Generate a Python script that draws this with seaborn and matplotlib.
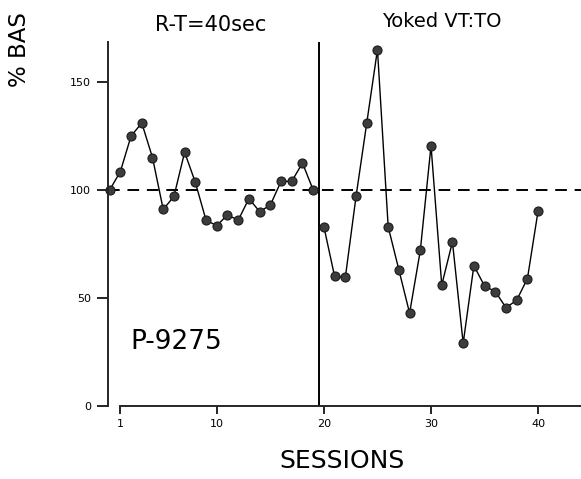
import matplotlib
matplotlib.use("Agg")
import matplotlib.pyplot as plt
import seaborn as sns
import pandas as pd

# --- data ---
sessions_rt = list(range(0, 20))
values_rt = [100, 108.5, 125, 131, 115, 91, 97, 117.5, 103.5, 86,
             83.5, 88.5, 86, 96, 90, 93, 104, 104, 112.5, 100]
sessions_vt = list(range(20, 41))
values_vt = [83, 60, 59.5, 97, 131, 165, 83, 63, 43, 72,
             120.5, 56, 76, 29, 65, 55.5, 53, 45.5, 49, 59, 90.5]
x_ticks = [1, 10, 20, 30, 40]
y_ticks = [0, 50, 100, 150]
phase_titles = ["R-T=40sec", "Yoked VT:TO"]
subject = "P-9275"
baseline = 100
phase_change = 19.5

sns.set_style("ticks")
plt.rcParams["font.family"] = ["DejaVu Sans"]
plt.rcParams["text.color"] = "black"

df_a = pd.DataFrame({"session": sessions_rt, "pct": values_rt})
df_b = pd.DataFrame({"session": sessions_vt, "pct": values_vt})

fig = plt.figure(figsize=(5.81, 4.79), dpi=100)
ax = fig.add_axes([0.1854, 0.1524, 0.8146, 0.7599])

for d in (df_a, df_b):
    sns.lineplot(data=d, x="session", y="pct", ax=ax, color="black", lw=1.0,
                 marker="o", markersize=6.5, markerfacecolor="#3c3c3c",
                 markeredgecolor="#1a1a1a", markeredgewidth=0.8, clip_on=False)

ax.axhline(baseline, color="black", lw=1.4, dashes=(6, 4), zorder=1)
ax.axvline(phase_change, color="black", lw=1.4, zorder=1)

ax.set_xlim(-0.18, 44.0)
ax.set_ylim(0, 168.5)
ax.set_xticks(x_ticks)
ax.set_yticks(y_ticks)
ax.tick_params(axis="both", direction="out", colors="black", labelsize=8,
               width=1.2)
ax.tick_params(axis="y", length=8, pad=4)
ax.tick_params(axis="x", length=6, pad=3)
sns.despine(ax=ax, top=True, right=True)
ax.spines["left"].set_linewidth(1.4)
ax.spines["bottom"].set_linewidth(1.4)
ax.spines["bottom"].set_bounds(0.97, 44.0)
ax.set_xlabel("")
ax.set_ylabel("")

# titles of phases
fig.text(211 / 581, 1 - 25 / 479, phase_titles[0], ha="center", va="center",
         fontsize=15)
fig.text(442 / 581, 1 - 21.5 / 479, phase_titles[1], ha="center", va="center",
         fontsize=14)

fig.text(176 / 581, 1 - 342 / 479, subject, ha="center", va="center",
         fontsize=19)
fig.text(342 / 581, 1 - 461.5 / 479, "SESSIONS", ha="center", va="center",
         fontsize=18)
fig.text(19 / 581, 1 - 87 / 479, "% BAS", ha="center", va="bottom",
         rotation=90, fontsize=16.5)

fig.savefig("out.png", dpi=100)
